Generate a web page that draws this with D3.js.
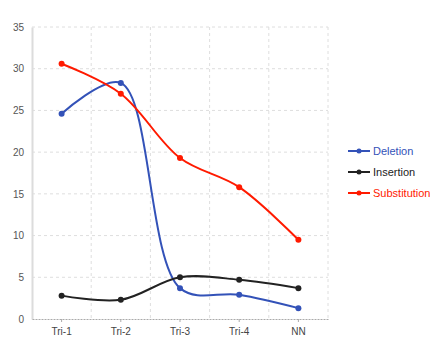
<!DOCTYPE html>
<html><head><meta charset="utf-8">
<script src="https://cdn.jsdelivr.net/npm/d3@7"></script>
<style>body{margin:0;background:#fff;} text{font-family:"Liberation Sans",Arial,sans-serif;}</style>
</head><body><svg id="c" width="446" height="357"></svg>
<script>
const categories = ["Tri-1","Tri-2","Tri-3","Tri-4","NN"];
const deletion = [24.6, 28.3, 3.7, 2.9, 1.3];
const insertion = [2.8, 2.3, 5.0, 4.7, 3.7];
const substitution = [30.6, 27.0, 19.3, 15.8, 9.5];
const yTicks = [0,5,10,15,20,25,30,35];
const seriesNames = ["Deletion","Insertion","Substitution"];
const seriesColors = ["#3352b8","#222222","#ff1a00"];
const seriesData = [deletion, insertion, substitution];

const svg = d3.select("#c");
const m = {l:32, r:118, t:27, b:38};
const W = 446, H = 357;
const x = d3.scaleBand().domain(categories).range([m.l, W - m.r]);
const y = d3.scaleLinear().domain([0,35]).range([H - m.b, m.t]);

// grid
const g = svg.append("g");
g.selectAll(".hg").data(yTicks.slice(1)).join("line")
  .attr("x1", m.l).attr("x2", W - m.r).attr("y1", d=>y(d)).attr("y2", d=>y(d))
  .attr("stroke","#dedede").attr("stroke-dasharray","3,3");
const bounds = categories.map(c => x(c) + x.bandwidth());
g.selectAll(".vg").data(bounds).join("line")
  .attr("x1", d=>d).attr("x2", d=>d).attr("y1", y(35)).attr("y2", y(0))
  .attr("stroke","#dedede").attr("stroke-dasharray","3,3");

// y axis
const ya = svg.append("g").attr("transform",`translate(${m.l},0)`)
  .call(d3.axisLeft(y).tickValues(yTicks).tickSize(0).tickPadding(8));
ya.select(".domain").attr("stroke","#dcdcdc").attr("stroke-width",2);
ya.selectAll("text").attr("fill","#555").attr("font-size","10px");

// x axis
const xa = svg.append("g").attr("transform",`translate(0,${y(0)})`)
  .call(d3.axisBottom(x).tickSize(3).tickPadding(6).tickSizeOuter(0));
xa.select(".domain").attr("stroke","#aaa").attr("stroke-dasharray","2,1");
xa.selectAll(".tick line").attr("stroke","#aaa");
xa.selectAll("text").attr("fill","#444").attr("font-size","10px");

const line = d3.line()
  .x((d,i)=> x(categories[i]) + x.bandwidth()/2)
  .y(d=> y(d))
  .curve(d3.curveCatmullRom.alpha(0.5));

seriesData.forEach((s,k)=>{
  svg.append("path").datum(s).attr("d", line).attr("fill","none")
    .attr("stroke", seriesColors[k]).attr("stroke-width",2);
  svg.selectAll(".p"+k).data(s).join("circle")
    .attr("cx",(d,i)=> x(categories[i]) + x.bandwidth()/2)
    .attr("cy", d=> y(d)).attr("r",3).attr("fill", seriesColors[k]);
});

// legend
const lg = svg.append("g");
seriesNames.forEach((n,k)=>{
  const yy = 151 + k*21;
  lg.append("line").attr("x1",348).attr("x2",370).attr("y1",yy).attr("y2",yy)
    .attr("stroke",seriesColors[k]).attr("stroke-width",2);
  lg.append("circle").attr("cx",359).attr("cy",yy).attr("r",2.5).attr("fill",seriesColors[k]);
  lg.append("text").attr("x",373).attr("y",yy).attr("dy","0.35em")
    .attr("font-size","11px").attr("fill",seriesColors[k]).text(n);
});
</script></body></html>
